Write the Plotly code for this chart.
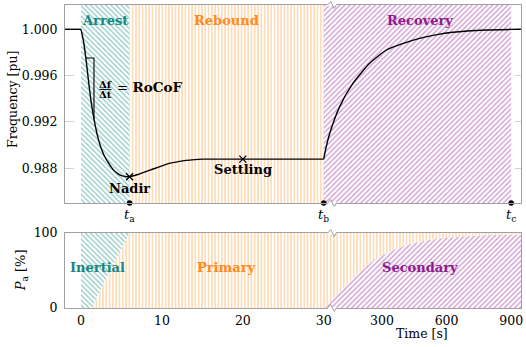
import plotly.graph_objects as go

# ---------------- data ----------------
# frequency response [pu] vs time [s]
t_pre = [-2.0, 0.0]
f_pre = [1.0, 1.0]
t_arrest = [0, 0.3, 0.6, 1.0, 1.3, 1.6, 2.0, 2.5, 3.0, 3.5, 4.0, 4.5, 5.0, 5.5, 6.0,
            7, 8, 9, 10, 11, 12, 13, 14, 15, 17]
f_arrest = [1.0, 0.9990, 0.99752, 0.9951, 0.9935, 0.99225, 0.9909, 0.9897, 0.9889, 0.98835,
            0.98785, 0.98755, 0.98735, 0.98728, 0.98726,
            0.98745, 0.98770, 0.98795, 0.98820, 0.98843, 0.98856, 0.98867, 0.98874, 0.98878, 0.98878]
t_settle = [17, 20, 25, 30]
f_settle = [0.98878, 0.98878, 0.98878, 0.98878]
t_recovery = [30, 40, 58, 104, 166, 243, 321, 400, 475, 550, 629, 784, 900, 945]
f_recovery = [0.98878, 0.98973, 0.99102, 0.99332, 0.99534, 0.99706, 0.99821, 0.99879,
              0.99922, 0.99952, 0.99974, 0.99994, 0.99999, 1.0]

# marked points
t_nadir, f_nadir = 6.0, 0.98726
t_settling, f_settling = 20.0, 0.98878
rocof_t = [0.6, 1.6]  # secant points of the RoCoF triangle

# phase boundaries [s]
t_events = [6, 30, 900]
event_labels = ["a", "b", "c"]
top_phases = ["Arrest", "Rebound", "Recovery"]
top_bounds = [0, 6, 30, 900]

# power share [%]
inertial_t = [0, 1.3, 6.0]
inertial_share = [100, 100, 0]
secondary_t = [36, 80, 120, 197, 274, 351, 429, 506, 583, 660, 738, 815, 892]
secondary_share = [0, 14, 26, 48, 66, 77, 85, 90, 93, 95, 96.4, 97.3, 97.7]
bottom_phases = ["Inertial", "Primary", "Secondary"]

x_tick_vals = [0, 10, 20, 30, 300, 600, 900]
f_tick_vals = [1.000, 0.996, 0.992, 0.988]
p_tick_vals = [0, 100]

# ---------------- broken time axis ----------------
T_BREAK = 30.0
K = 0.02663  # compression of the 30..900 s segment


def tx(t):
    return t if t <= T_BREAK else T_BREAK + (t - T_BREAK) * K


def txl(ts):
    return [tx(t) for t in ts]


X0, X1 = -1.98, 54.38
FY0, FY1 = 0.98498, 1.0021
PY0, PY1 = 0, 100

TEAL = "#17877f"
ORANGE = "#ff8a1c"
PURPLE = "#8e1a8e"
HT = "#1f958c"
HO = "#ff9a35"
HP = "#a847a8"
SPINE = "#a0a0a0"
FONT = "DejaVu Serif"

fig = go.Figure()


def poly(xs, ys, shape, color, size, sol, xa, ya):
    fig.add_trace(go.Scatter(
        x=xs + [xs[0]], y=ys + [ys[0]], fill="toself", mode="lines",
        line=dict(width=0), fillcolor="rgba(255,255,255,0)",
        fillpattern=dict(shape=shape, fgcolor=color, bgcolor="white", size=size, solidity=sol),
        hoverinfo="skip", showlegend=False, xaxis=xa, yaxis=ya))


# top regions
pat = [("\\", HT, 3.6, 0.36), ("|", HO, 3.3, 0.36), ("/", HP, 3.6, 0.4)]
for i in range(3):
    a, b = tx(top_bounds[i]), tx(top_bounds[i + 1])
    poly([a, b, b, a], [FY0, FY0, FY1, FY1], pat[i][0], pat[i][1], pat[i][2], pat[i][3], "x", "y")

# bottom regions
inert_x = txl(inertial_t)
inert_y = [100 - s for s in inertial_share]
poly(inert_x + [tx(0)], inert_y + [PY1], pat[0][0], pat[0][1], pat[0][2], pat[0][3], "x2", "y2")
sec_x = txl(secondary_t)
# primary: from inertial boundary along top to right, down, back along secondary curve
prim_x = [inert_x[1], inert_x[2], X1, X1] + sec_x[::-1]
prim_y = [inert_y[1], inert_y[2], PY1, secondary_share[-1]] + secondary_share[::-1]
poly(prim_x, prim_y, pat[1][0], pat[1][1], pat[1][2], pat[1][3], "x2", "y2")
poly(sec_x + [X1, X1], secondary_share + [secondary_share[-1], PY0],
     pat[2][0], pat[2][1], pat[2][2], pat[2][3], "x2", "y2")

# frequency curve
line = dict(color="black", width=1.4)
fig.add_trace(go.Scatter(x=txl(t_pre), y=f_pre, mode="lines", line=line, showlegend=False))
fig.add_trace(go.Scatter(x=txl(t_arrest), y=f_arrest, mode="lines",
                         line=dict(color="black", width=1.4, shape="spline", smoothing=0.6),
                         showlegend=False))
fig.add_trace(go.Scatter(x=txl(t_settle), y=f_settle, mode="lines", line=line, showlegend=False))
fig.add_trace(go.Scatter(x=txl(t_recovery), y=f_recovery, mode="lines",
                         line=dict(color="black", width=1.4, shape="spline", smoothing=0.6),
                         showlegend=False))

# RoCoF triangle
i1 = t_arrest.index(rocof_t[0])
i2 = t_arrest.index(rocof_t[1])
fig.add_trace(go.Scatter(x=[tx(rocof_t[0]), tx(rocof_t[1]), tx(rocof_t[1])],
                         y=[f_arrest[i1], f_arrest[i1], f_arrest[i2]], mode="lines",
                         line=dict(color="black", width=1.1), showlegend=False))

# nadir / settling markers
fig.add_trace(go.Scatter(x=[tx(t_nadir), tx(t_settling)], y=[f_nadir, f_settling], mode="markers",
                         marker=dict(symbol="x-thin", size=7, line=dict(color="black", width=1.3)),
                         showlegend=False))
# event dots
fig.add_trace(go.Scatter(x=txl(t_events), y=[FY0] * 3, mode="markers", cliponaxis=False,
                         marker=dict(symbol="circle", size=5.5, color="black"), showlegend=False))

# ---------------- layout ----------------
L, R, T, B = 65, 4.5, 5, 38.7
W, H = 526, 347
PH = H - T - B
PW = W - L - R


def py(p):  # pixel y -> paper
    return (H - B - p) / PH


def px(p):
    return (p - L) / PW


ax_common = dict(showline=True, linecolor=SPINE, linewidth=1, mirror=True, zeroline=False,
                 ticks="", range=[X0, X1], showgrid=False, automargin=False)
fig.update_layout(
    width=W, height=H, margin=dict(l=L, r=R, t=T, b=B, autoexpand=False),
    paper_bgcolor="white", plot_bgcolor="white",
    font=dict(family=FONT, size=12, color="black"),
    xaxis=dict(domain=[0, 1], anchor="y", showticklabels=False, **ax_common),
    yaxis=dict(domain=[py(203.3), 1], range=[FY0, FY1], tickvals=f_tick_vals,
               ticktext=["%.3f" % v for v in f_tick_vals], showline=True, linecolor=SPINE,
               mirror=True, zeroline=False, ticks="", showgrid=True, gridcolor="#d0d0d0",
               griddash="dash", gridwidth=0.8, ticklabelstandoff=4, tickfont=dict(size=12.5),
               automargin=False),
    xaxis2=dict(domain=[0, 1], anchor="y2", tickvals=txl(x_tick_vals),
                ticktext=[str(v) for v in x_tick_vals], tickfont=dict(size=12.5),
                ticklabelstandoff=1, **ax_common),
    yaxis2=dict(domain=[0, py(233.3)], range=[PY0, PY1], tickvals=p_tick_vals,
                ticktext=[str(v) for v in p_tick_vals], showline=True, linecolor=SPINE,
                mirror=True, zeroline=False, ticks="", showgrid=False, ticklabelstandoff=4,
                tickfont=dict(size=12.5), automargin=False),
)

ann = []


def note(xp, yp, text, size=13, color="black", angle=0, xanchor="center"):
    ann.append(dict(x=px(xp), y=py(yp), xref="paper", yref="paper", text=text, showarrow=False,
                    xanchor=xanchor, yanchor="middle", textangle=angle,
                    font=dict(size=size, color=color)))


# phase labels
top_cols = [TEAL, ORANGE, PURPLE]
for name, c, xp in zip(top_phases, top_cols, [105, 226.7, 420.5]):
    note(xp, 21, "<b>%s</b>" % name, color=c)
for name, c, xp in zip(bottom_phases, top_cols, [97.5, 227, 420]):
    note(xp, 267.5, "<b>%s</b>" % name, color=c)
# point labels
ann.append(dict(x=tx(t_nadir), y=f_nadir, xref="x", yref="y", text="<b>Nadir</b>", showarrow=False,
                xanchor="center", yanchor="middle", yshift=-11.5, font=dict(size=13)))
ann.append(dict(x=tx(t_settling), y=f_settling, xref="x", yref="y", text="<b>Settling</b>",
                xanchor="center", yanchor="middle", showarrow=False, yshift=-10.5,
                font=dict(size=13)))
# RoCoF
note(105.5, 84.5, "<b>Δf</b>", size=10)
note(105.5, 94.5, "<b>Δt</b>", size=10)
note(115, 87, "= <b>RoCoF</b>", size=13.5, xanchor="left")
# event labels
for t, lab in zip(t_events, event_labels):
    ann.append(dict(x=tx(t), y=0, xref="x", yref="y domain", text="<i>t</i><sub>%s</sub>" % lab,
                    xanchor="center", yanchor="middle", showarrow=False, yshift=-12,
                    font=dict(size=13)))
# axis titles
note(13, 100, "Frequency [pu]", size=12.5, angle=-90)
note(21.5, 271, "<i>P</i><sub>a</sub> [%]", size=13, angle=-90)
note(422, 334, "Time [s]", size=12.5)
fig.update_layout(annotations=ann)

# fraction bar + axis-break zigzags
shapes = [dict(type="line", xref="paper", yref="paper", x0=px(99.5), x1=px(111.5), y0=py(89.5),
               y1=py(89.5), line=dict(color="black", width=1), layer="above")]
zig = "M0,0 L3,3.5 L6.5,-3.5 L8.5,0"
xb = (328 - 81) / 8.1
for yr, yv in [("y domain", 1), ("y domain", 0), ("y2 domain", 1), ("y2 domain", 0)]:
    xr = "x" if yr.startswith("y ") else "x2"
    shapes.append(dict(type="line", xref=xr, yref=yr, xsizemode="pixel", xanchor=xb, x0=0, x1=8.5,
                       y0=yv, y1=yv, line=dict(color="white", width=2.5), layer="above"))
    shapes.append(dict(type="path", xref=xr, yref=yr, xsizemode="pixel", ysizemode="pixel",
                       xanchor=xb, yanchor=yv, path=zig, line=dict(color=SPINE, width=1),
                       layer="above"))
fig.update_layout(shapes=shapes)

fig.write_html("out.html", config={"displayModeBar": False},
               post_script="document.body.style.margin='0px';document.body.style.padding='0px';")
